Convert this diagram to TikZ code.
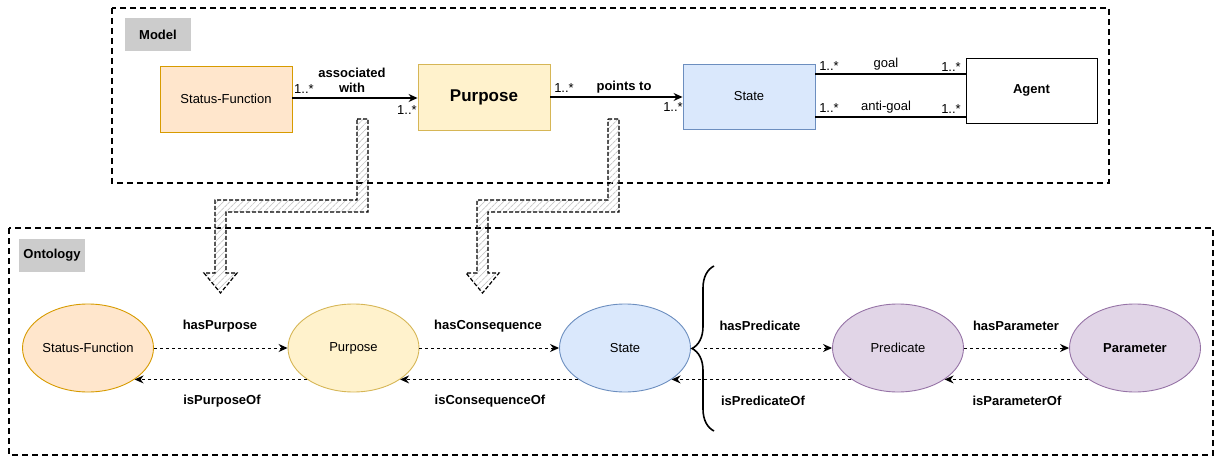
\documentclass[tikz,border=0pt]{standalone}
\usepackage{fontspec}
\setmainfont{Liberation Sans}
\usetikzlibrary{positioning,arrows.meta,shapes.geometric,patterns.meta,decorations.pathreplacing}
\definecolor{sfFill}{HTML}{FFE6CC}
\definecolor{sfLine}{HTML}{D79B00}
\definecolor{puFill}{HTML}{FFF2CC}
\definecolor{puLine}{HTML}{D6B656}
\definecolor{stFill}{HTML}{DAE8FC}
\definecolor{stLine}{HTML}{6C8EBF}
\definecolor{prFill}{HTML}{E1D5E7}
\definecolor{prLine}{HTML}{9673A6}
\definecolor{tagFill}{HTML}{CCCCCC}
\tikzset{
  groupbox/.style={draw, line width=1.6pt, dash pattern=on 6pt off 4pt},
  tagbox/.style={fill=tagFill, minimum width=66pt, minimum height=33pt, inner sep=0pt, font=\fontsize{13pt}{15pt}\selectfont\bfseries},
  classbox/.style={draw, line width=0.9pt, minimum width=132pt, minimum height=66pt, inner sep=0pt, align=center},
  conceptnode/.style={draw, ellipse, line width=0.9pt, minimum width=131pt, minimum height=88pt, inner sep=0pt},
  assocarrow/.style={-{Stealth[length=9pt, width=8pt, inset=3pt]}, line width=1.3pt},
  assocline/.style={line width=1.1pt},
  ontoarrow/.style={-{Stealth[length=9pt, width=8pt, inset=3pt]}, line width=1pt, dash pattern=on 3pt off 3pt},
  mult/.style={inner sep=0pt},
  rolelabel/.style={inner sep=0pt, align=center, font=\fontsize{13pt}{15pt}\selectfont\bfseries},
  plainlabel/.style={inner sep=0pt},
  hatcharrow/.style={draw, line width=1.2pt, dash pattern=on 4pt off 2pt, pattern={Lines[angle=45, distance=4.5pt, line width=0.7pt]}, pattern color=gray!45}
}

\begin{document}
\begin{tikzpicture}[x=1pt, y=-1pt, every node/.style={font=\fontsize{13pt}{15pt}\selectfont}]
  \useasboundingbox (0,0) rectangle (1215,457);
  \draw[groupbox] (112,8) rectangle (1109,183);
  \draw[groupbox] (9,228) rectangle (1213,455);
  \node[tagbox] (modeltag) at (158,35) {Model};
  \node[tagbox] (ontotag) at (52,255) {Ontology};

  % model
  \node[classbox, fill=sfFill, draw=sfLine] (sfbox) at (226,99) {Status-Function};
  \node[classbox, fill=puFill, draw=puLine, font=\fontsize{17pt}{20pt}\selectfont\bfseries] (pubox) at (484,97) {Purpose};
  \node[classbox, fill=stFill, draw=stLine, minimum height=65pt] (stbox) at (749,96.5) {State};
  \node[classbox, fill=white, draw=black, minimum width=131pt, minimum height=65pt, font=\fontsize{13pt}{15pt}\selectfont\bfseries] (agbox) at (1031.5,90.5) {Agent};
  \draw[assocarrow] (sfbox.east |- 0,98) -- (pubox.west |- 0,98);
  \draw[assocarrow] (pubox.east |- 0,97) -- (stbox.west |- 0,97);
  \draw[assocline] (stbox.east |- 0,74) -- (agbox.west |- 0,74);
  \draw[assocline] (stbox.east |- 0,117) -- (agbox.west |- 0,117);
  \node[mult] (m1) at (304,89) {1..*};
  \node[rolelabel] (aw) at (352,80) {associated\\with};
  \node[mult] (m2) at (407,110) {1..*};
  \node[mult] (m3) at (564,88) {1..*};
  \node[rolelabel] (pt) at (624,87) {points to};
  \node[mult] (m4) at (673,107) {1..*};
  \node[mult] (m5) at (829,66) {1..*};
  \node[plainlabel] (goal) at (886,64) {goal};
  \node[mult] (m6) at (951,67) {1..*};
  \node[mult] (m7) at (829,108) {1..*};
  \node[plainlabel] (antigoal) at (886,107) {anti-goal};
  \node[mult] (m8) at (951,109) {1..*};

  % mapping arrows
  \path[hatcharrow] (357,119) -- (368,119) -- (368,212) -- (226,212) -- (226,273) -- (237,273) -- (220.5,293) -- (204,273) -- (215,273) -- (215,200) -- (357,200) -- cycle;
  \path[hatcharrow] (608,119) -- (619,119) -- (619,212) -- (488,212) -- (488,273) -- (499,273) -- (482.5,293) -- (466,273) -- (477,273) -- (477,200) -- (608,200) -- cycle;

  % ontology
  \node[conceptnode, fill=sfFill, draw=sfLine] (sf) at (88,348) {Status-Function};
  \node[conceptnode, fill=puFill, draw=puLine] (pur) at (353.5,348) {Purpose};
  \node[conceptnode, fill=stFill, draw=stLine] (st) at (625,348) {State};
  \node[conceptnode, fill=prFill, draw=prLine] (pred) at (898,348) {Predicate};
  \node[conceptnode, fill=prFill, draw=prLine, font=\fontsize{13pt}{15pt}\selectfont\bfseries] (param) at (1135,348) {Parameter};
  \draw[line width=1.6pt, decorate, decoration={brace, amplitude=22pt, aspect=0.5}] (714,431) -- (714,266);
  \coordinate (brace) at (704,348);
  \draw[ontoarrow] (sf) -- (pur);
  \draw[ontoarrow] (pur) -- (st);
  \draw[ontoarrow] (brace) -- (pred);
  \draw[ontoarrow] (pred) -- (param);
  \draw[ontoarrow] (pur.214) -- (sf.-34);
  \draw[ontoarrow] (st.214) -- (pur.-34);
  \draw[ontoarrow] (pred.214) -- (st.-34);
  \draw[ontoarrow] (param.214) -- (pred.-34);
  \node[rolelabel] (haspur) at (220,326) {hasPurpose};
  \node[rolelabel] (ispur) at (222,401) {isPurposeOf};
  \node[rolelabel] (hascon) at (488,326) {hasConsequence};
  \node[rolelabel] (iscon) at (490,401) {isConsequenceOf};
  \node[rolelabel] (haspred) at (760,326) {hasPredicate};
  \node[rolelabel] (ispred) at (763,401) {isPredicateOf};
  \node[rolelabel] (haspar) at (1016,326) {hasParameter};
  \node[rolelabel] (ispar) at (1017,401) {isParameterOf};
\end{tikzpicture}
\end{document}
